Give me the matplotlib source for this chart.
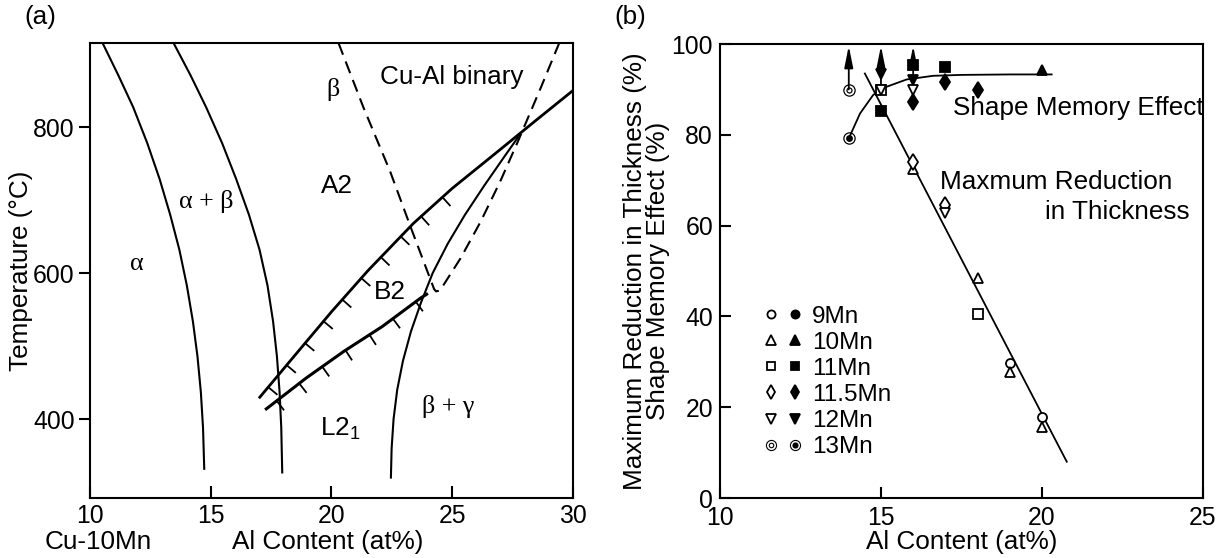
import numpy as np
import matplotlib.pyplot as plt
from matplotlib import patheffects
from matplotlib.path import Path
from matplotlib.transforms import Affine2D
from matplotlib.lines import Line2D
from matplotlib.legend_handler import HandlerTuple

plt.rcParams['font.family'] = ['Liberation Sans', 'DejaVu Sans']
plt.rcParams['mathtext.fontset'] = 'custom'
plt.rcParams['mathtext.rm'] = 'Liberation Sans'
FS = 18.8
FS_TICK = 17.8
FS_LEG = 17.5

# ---------------- (a) phase diagram, Al content (at%) vs temperature (C)
alpha_x = [10.52, 11.17, 11.79, 12.37, 12.88, 13.32, 13.70, 14.01, 14.26, 14.45, 14.59, 14.68, 14.73]
alpha_t = [915, 871, 827, 778, 729, 680, 632, 583, 534, 486, 437, 388, 332]
beta_x = [13.46, 14.16, 14.81, 15.47, 16.05, 16.58, 17.02, 17.35, 17.58, 17.74, 17.85, 17.92, 17.96]
beta_t = [915, 871, 827, 778, 729, 680, 632, 583, 534, 486, 437, 388, 327]
gamma_x = [22.46, 22.49, 22.57, 22.72, 22.96, 23.29, 23.71, 24.19, 24.81, 25.53, 26.33, 27.17, 27.81]
gamma_t = [320, 360, 400, 440, 480, 520, 560, 600, 640, 680, 720, 760, 790]
binary_x = [20.29, 21.32, 22.43, 23.30, 23.86, 24.25, 24.33, 24.49, 25.34, 26.17, 26.98, 27.73, 28.67, 29.43]
binary_t = [915, 827, 739, 661, 612, 578, 575, 576, 620, 670, 725, 781, 854, 915]
a2b2_x = [17.03, 18.5, 20.0, 21.5, 23.39, 25.0, 26.98, 28.5, 30.0]
a2b2_t = [430, 488, 547, 603, 668, 716, 769, 810, 850]
a2b2_ticked = 6          # hatch ticks up to about 25 at%
b2l21_x = [17.30, 18.94, 20.52, 22.11, 23.70, 23.94]
b2l21_t = [414, 456, 493, 527, 566, 571]

region_labels = ['α', 'α + β', 'β', 'A2', 'B2', '$\\mathregular{L2_1}$', 'β + γ', 'Cu-Al binary']
region_x = [11.95, 14.81, 20.05, 20.21, 22.43, 20.37, 24.85, 24.97]
region_t = [612, 698, 851, 719, 574, 387, 417, 868]
greek = [True, True, True, False, False, False, True, False]

# ---------------- (b) reduction / shape memory effect
mrt_9 = ([19, 20], [29.8, 17.9])
mrt_10 = ([16, 18, 19, 20], [72.4, 48.4, 27.8, 15.6])
mrt_11 = ([15, 18], [89.9, 40.5])
mrt_115 = ([16, 17], [74.1, 64.5])
mrt_12 = ([15, 16, 17], [89.9, 89.9, 62.7])
mrt_13 = ([14], [89.9])

sme_9 = ([], [])
sme_10 = ([20], [94.3])
sme_11 = ([15, 16, 17], [85.3, 95.4, 95.0])
sme_115 = ([16, 17, 18], [87.3, 91.7, 89.9])
sme_12 = ([15, 16], [93.5, 92.1])
sme_13 = ([14], [79.2])

arrow_x = [14, 15, 16]
arrow_from, arrow_to = 90, 99.6

sme_fit_x = [14.0, 14.35, 14.76, 15.18, 15.8, 16.62, 17.5, 19.0, 20.3]
sme_fit_y = [79.2, 84.7, 88.8, 90.6, 92.2, 93.0, 93.2, 93.3, 93.3]
mrt_fit_x = [14.5, 20.77]
mrt_fit_y = [93.5, 8.0]

series = ['9Mn', '10Mn', '11Mn', '11.5Mn', '12Mn', '13Mn']


def ring_marker(radii):
    verts, codes = [], []
    for i, r in enumerate(radii):
        sx = r if i % 2 == 0 else -r
        p = Affine2D().scale(sx, r).transform_path(Path.unit_circle())
        verts.append(p.vertices)
        codes.append(p.codes)
    return Path(np.concatenate(verts), np.concatenate(codes))


open13 = ring_marker([1.0, 0.8, 0.5, 0.3])
full13 = ring_marker([1.0, 0.8, 0.55])
markers = ['o', '^', 's', 'd', 'v', None]
sizes = [6.5, 7.5, 7, 8, 7.5, 9]


def style(i, filled):
    if i == 5:
        return dict(marker=open13 if not filled else full13, ms=sizes[i],
                    mfc='k', mec='k', mew=0, ls='')
    return dict(marker=markers[i], ms=sizes[i], ls='',
                mfc='k' if filled else 'w', mec='k', mew=1.3)


fig = plt.figure(figsize=(12.28, 5.58), dpi=100)
ax1 = fig.add_axes([0.0733, 0.1075, 0.3933, 0.8154])
ax2 = fig.add_axes([0.5863, 0.1075, 0.3933, 0.8136])

# ---- panel (a)
ax1.plot(alpha_x, alpha_t, color='k', lw=1.5)
ax1.plot(beta_x, beta_t, color='k', lw=1.5)
ax1.plot(gamma_x, gamma_t, color='k', lw=1.5)
ax1.plot(binary_x, binary_t, color='k', lw=1.5, dashes=(6, 3.5))
ax1.plot(a2b2_x, a2b2_t, color='k', lw=2.0)
ax1.plot(b2l21_x, b2l21_t, color='k', lw=2.2)
ticks = [patheffects.TickedStroke(spacing=19, angle=-90, length=0.42, linewidth=1.3)]
ax1.plot(a2b2_x[:a2b2_ticked], a2b2_t[:a2b2_ticked], color='k', path_effects=ticks)
ax1.plot(b2l21_x, b2l21_t, color='k', path_effects=ticks)

for lab, x, t, g in zip(region_labels, region_x, region_t, greek):
    ax1.text(x, t, lab, ha='center', va='center', fontsize=FS,
             family=['Liberation Serif'] if g else None)

ax1.set_xlim(10, 30)
ax1.set_ylim(292, 915)
ax1.set_xticks([10, 15, 20, 25, 30])
ax1.set_yticks([400, 600, 800])
ax1.tick_params(axis='x', direction='in', length=9, width=1.5, labelsize=FS_TICK, pad=4)
ax1.tick_params(axis='y', direction='out', length=8, width=1.5, labelsize=FS_TICK, pad=3)
ax1.text(-0.143, 0.5, 'Temperature (°C)', rotation=90, ha='center', va='center',
         fontsize=FS, transform=ax1.transAxes)
ax1.text(0.017, -0.097, 'Cu-10Mn', ha='center', va='center', fontsize=FS,
         transform=ax1.transAxes)
ax1.text(0.493, -0.097, 'Al Content (at%)', ha='center', va='center', fontsize=FS,
         transform=ax1.transAxes)

# ---- panel (b)
ax2.plot(sme_fit_x, sme_fit_y, color='k', lw=1.3)
ax2.plot(mrt_fit_x, mrt_fit_y, color='k', lw=1.3)
for x in arrow_x:
    ax2.annotate('', xy=(x, arrow_to), xytext=(x, arrow_from),
                 arrowprops=dict(arrowstyle='-|>,head_length=0.65,head_width=0.13',
                                 color='k', lw=1.3, mutation_scale=20,
                                 shrinkA=0, shrinkB=0))

mrt_sets = [mrt_9, mrt_10, mrt_11, mrt_115, mrt_12, mrt_13]
sme_sets = [sme_9, sme_10, sme_11, sme_115, sme_12, sme_13]
handles = []
for i, name in enumerate(series):
    ax2.plot(*sme_sets[i], zorder=3, **style(i, True))
    ax2.plot(*mrt_sets[i], zorder=4, **style(i, False))
    sm = dict(style(i, False))
    sf = dict(style(i, True))
    sm['ms'] = sm['ms'] * 0.9
    sf['ms'] = sf['ms'] * 0.9
    handles.append((Line2D([], [], **sm), Line2D([], [], **sf)))

ax2.legend(handles, series, handler_map={tuple: HandlerTuple(ndivide=None, pad=0.55)},
           loc='upper left', bbox_to_anchor=(0.095, 0.424), frameon=False,
           fontsize=FS_LEG, handlelength=1.4, handletextpad=0.5, labelspacing=0.17,
           borderpad=0, borderaxespad=0)

ax2.text(17.25, 86.0, 'Shape Memory Effect', ha='left', va='center', fontsize=FS)
ax2.text(16.84, 69.6, 'Maxmum Reduction', ha='left', va='center', fontsize=FS)
ax2.text(24.6, 62.9, 'in Thickness', ha='right', va='center', fontsize=FS)

ax2.set_xlim(10, 25)
ax2.set_ylim(0, 100)
ax2.set_xticks([10, 15, 20, 25])
ax2.set_yticks([0, 20, 40, 60, 80, 100])
ax2.tick_params(axis='x', direction='in', length=8, width=1.5, labelsize=FS_TICK, pad=6)
ax2.tick_params(axis='y', direction='in', length=8, width=1.5, labelsize=FS_TICK, pad=5)
ax2.text(-0.152, 0.5, 'Maximum Reduction in Thickness (%)\nShape Memory Effect (%)',
         rotation=90, ha='center', va='center', multialignment='center',
         linespacing=0.95, fontsize=FS, transform=ax2.transAxes)
ax2.text(0.5, -0.097, 'Al Content (at%)', ha='center', va='center', fontsize=FS,
         transform=ax2.transAxes)

for ax in (ax1, ax2):
    for sp in ax.spines.values():
        sp.set_linewidth(1.5)

fig.text(40 / 1228, 1 - 17 / 558, '(a)', ha='center', va='center', fontsize=FS)
fig.text(630 / 1228, 1 - 17 / 558, '(b)', ha='center', va='center', fontsize=FS)

fig.savefig('out.png', dpi=100)
